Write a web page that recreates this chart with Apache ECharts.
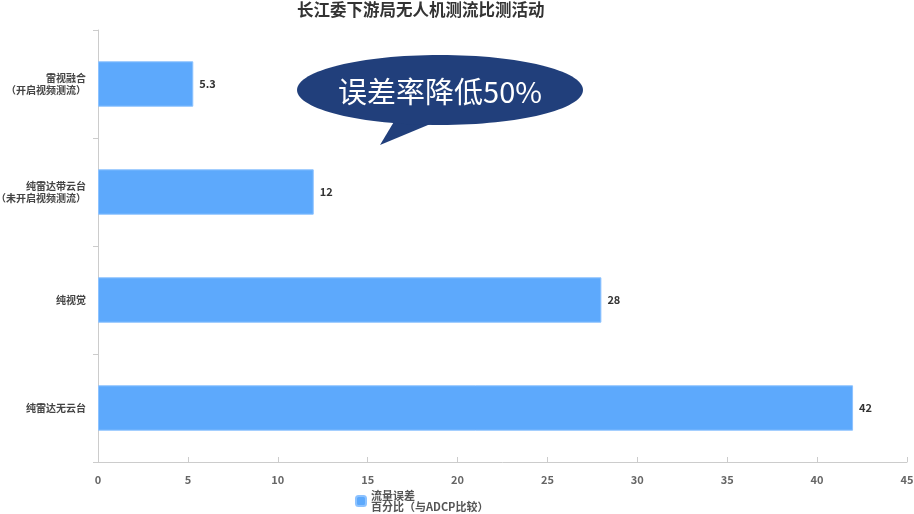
<!DOCTYPE html>
<html><head><meta charset="utf-8">
<script src="https://cdn.jsdelivr.net/npm/echarts@6/dist/echarts.min.js"></script>
<style>html,body{margin:0;padding:0;background:#fff}#c{width:914px;height:514px}</style>
</head><body><div id="c"></div>
<script>
const categories = ['纯雷达无云台', '纯视觉', '纯雷达带云台\n（未开启视频测流）', '雷视融合\n（开启视频测流）'];
const values = [42, 28, 12, 5.3];
const seriesName = '流量误差\n百分比（与ADCP比较）';
const titleText = '长江委下游局无人机测流比测活动';
const calloutText = '误差率降低50%';

const chart = echarts.init(document.getElementById('c'));
chart.setOption({
  animation: false,
  title: {text: titleText, left: 297, top: 1, padding: 0, textStyle: {fontSize: 16.5, fontWeight: 'bold', color: '#333', fontFamily: 'Noto Sans CJK SC'}},
  legend: {top: 490, left: 355, padding: 0, itemWidth: 10, itemHeight: 10, icon: 'roundRect', itemGap: 5,
    textStyle: {fontSize: 11, fontWeight: 'bold', color: '#555', lineHeight: 11, fontFamily: 'Noto Sans CJK SC'}},
  grid: {left: 98, right: 7, top: 30, bottom: 52, containLabel: false, outerBoundsMode: 'none'},
  xAxis: {type: 'value', min: 0, max: 45, interval: 5,
    axisLine: {show: true, lineStyle: {color: '#ccc'}},
    axisTick: {show: true, inside: true, length: 5, lineStyle: {color: '#ccc'}},
    splitLine: {show: false},
    axisLabel: {fontSize: 11, fontWeight: 'bold', color: '#666', margin: 12, fontFamily: 'Noto Sans CJK SC'}},
  yAxis: {type: 'category', data: categories,
    axisLine: {show: true, lineStyle: {color: '#ccc'}},
    axisTick: {show: true, length: 5, lineStyle: {color: '#ccc'}},
    axisLabel: {fontSize: 10, fontWeight: 'bold', color: '#444', lineHeight: 12, margin: 12, fontFamily: 'Noto Sans CJK SC'}},
  series: [{name: seriesName, type: 'bar', data: values, barWidth: '42%',
    itemStyle: {color: '#5da9fc', borderColor: '#8cc2ff', borderWidth: 1},
    label: {show: true, position: 'right', distance: 6, fontSize: 11, fontWeight: 'bold', color: '#333', fontFamily: 'Noto Sans CJK SC'}}],
  graphic: [
    {type: 'polygon', shape: {points: [[398, 115], [452, 115], [380, 145]]}, style: {fill: '#213f7b'}, z: 100},
    {type: 'ellipse', shape: {cx: 440, cy: 90, rx: 143, ry: 35}, style: {fill: '#213f7b'}, z: 101},
    {type: 'text', x: 440, y: 92, style: {text: calloutText, fill: '#fff', fontSize: 29, fontFamily: 'Noto Sans CJK SC', align: 'center', verticalAlign: 'middle'}, z: 102}
  ]
});
</script></body></html>
